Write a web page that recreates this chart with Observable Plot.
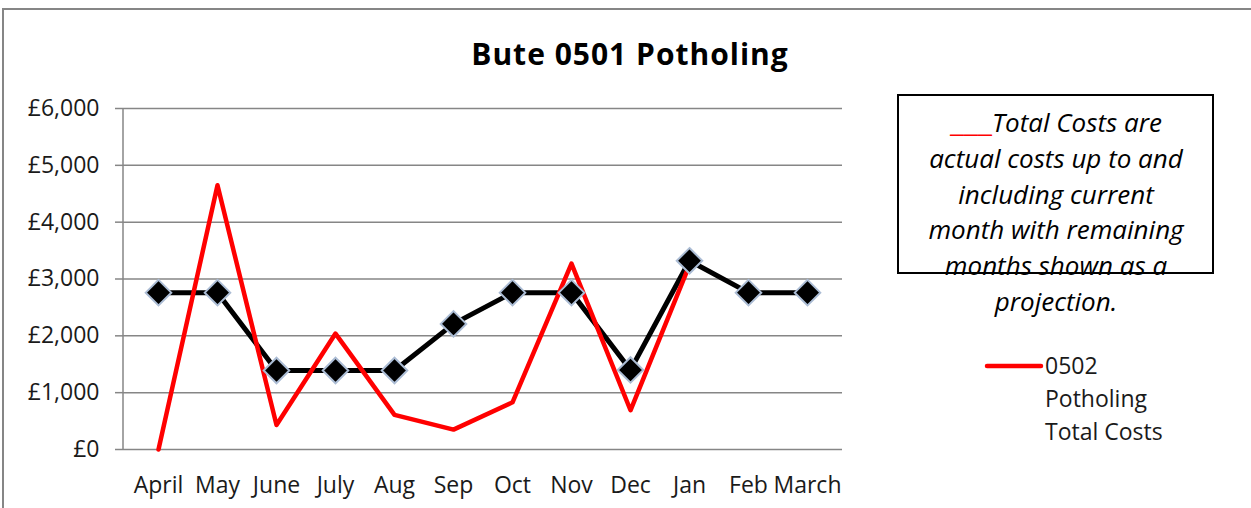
<!DOCTYPE html>
<html>
<head>
<meta charset="utf-8">
<script src="https://cdn.jsdelivr.net/npm/d3@7"></script>
<script src="https://cdn.jsdelivr.net/npm/@observablehq/plot@0.6"></script>
<style>
  html, body { margin: 0; padding: 0; background: #fff; }
  #chart svg { display: block; }
</style>
</head>
<body>
<div id="chart"></div>
<script>
// ---- data ----
const months = ["April","May","June","July","Aug","Sep","Oct","Nov","Dec","Jan","Feb","March"];
const projection = [2760,2760,1390,1390,1390,2210,2760,2760,1400,3320,2760,2760];
const totalCosts = [0,4650,430,2040,610,350,830,3270,690,3250,null,null];
const yTicks = [0,1000,2000,3000,4000,5000,6000];
const titleText = "Bute 0501 Potholing";
const noteLines = ["Total Costs are","actual costs up to and","including current","month with remaining","months shown as a","projection."];
const legendLines = ["0502","Potholing","Total Costs"];

// ---- layout ----
const W = 1251, H = 508;
const mL = 123, mR = 409, mT = 108, mB = 59;
const gray = "#868686";
const font = "'Open Sans', sans-serif";

const projData = months.map((m, i) => ({month: m, value: projection[i]}));
const costData = months.map((m, i) => ({month: m, value: totalCosts[i]})).filter(d => d.value != null);
const fmt = v => "£" + d3.format(",")(v);

const chart = Plot.plot({
  width: W, height: H,
  marginLeft: mL, marginRight: mR, marginTop: mT, marginBottom: mB,
  style: {fontFamily: font, background: "#fff", color: "#1a1a1a", fontSize: "22px"},
  x: {type: "point", domain: months, padding: 0.5, label: null},
  y: {domain: [0, 6000], label: null},
  marks: [
    Plot.gridY(yTicks, {stroke: gray, strokeOpacity: 1, strokeWidth: 1.5}),
    Plot.axisY(yTicks, {tickFormat: fmt, tickSize: 8, tickPadding: 16, fontSize: 23, stroke: gray, strokeWidth: 1.5, fill: "#1a1a1a", label: null}),
    Plot.axisX({tickSize: 0, tickPadding: 27, fontSize: 23, fill: "#1a1a1a", label: null}),
    Plot.line(projData, {x: "month", y: "value", stroke: "#000", strokeWidth: 5}),
    Plot.line(costData, {x: "month", y: "value", stroke: "#ff0000", strokeWidth: 4.5}),
    Plot.dot(projData, {x: "month", y: "value", symbol: "diamond2", r: 11.5, fill: "#000", stroke: "#abbcd4", strokeWidth: 2})
  ]
});
document.getElementById("chart").appendChild(chart);

const svg = d3.select(chart);
const y = chart.scale("y");

// outer chart-area border (top & left visible)
svg.append("rect").attr("x", 3).attr("y", 9).attr("width", W + 20).attr("height", H + 20)
  .attr("fill", "none").attr("stroke", gray).attr("stroke-width", 2);

// vertical axis line
svg.append("line").attr("x1", mL).attr("x2", mL)
  .attr("y1", y.apply(6000)).attr("y2", y.apply(0))
  .attr("stroke", gray).attr("stroke-width", 1.5);

// title
svg.append("text").attr("x", 630).attr("y", 65).attr("text-anchor", "middle")
  .attr("font-family", font).attr("font-weight", 700).attr("font-size", 30)
  .attr("letter-spacing", 1).attr("fill", "#000").text(titleText);

// note text
const note = svg.append("g").attr("font-family", font).attr("font-style", "italic")
  .attr("font-size", 26).attr("fill", "#000").attr("text-anchor", "middle");
noteLines.forEach((line, i) => {
  const t = note.append("text").attr("x", 1056).attr("y", 132 + i * 35.8);
  if (i === 0) {
    t.append("tspan").attr("fill", "#ff0000").attr("font-style", "normal")
      .attr("textLength", 42).attr("lengthAdjust", "spacingAndGlyphs").text("___");
  }
  t.append("tspan").text(line);
});
svg.append("rect").attr("x", 898).attr("y", 95).attr("width", 315).attr("height", 178)
  .attr("fill", "none").attr("stroke", "#000").attr("stroke-width", 2);

// series legend
svg.append("line").attr("x1", 987).attr("x2", 1041).attr("y1", 366).attr("y2", 366)
  .attr("stroke", "#ff0000").attr("stroke-width", 4.5).attr("stroke-linecap", "round");
const leg = svg.append("g").attr("font-family", font).attr("font-size", 23)
  .attr("fill", "#1a1a1a").attr("text-anchor", "start");
legendLines.forEach((line, i) => {
  leg.append("text").attr("x", 1045).attr("y", 374 + i * 33).text(line);
});
</script>
</body>
</html>
